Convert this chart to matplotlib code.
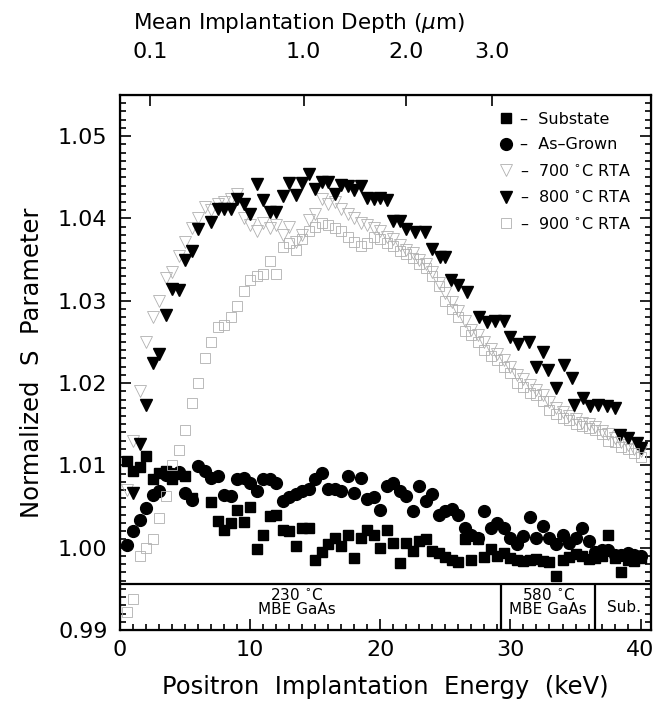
import numpy as np
import matplotlib.pyplot as plt
from matplotlib.ticker import MultipleLocator

# --- data (energy in keV, normalized S) ---
sub_E = [0.5, 1.0, 1.5, 2.0, 2.5, 3.0, 3.5, 4.0, 4.5, 5.0, 5.5, 7.0, 7.5, 8.0, 8.5,
         9.0, 9.5, 10.0, 10.5, 11.0, 11.5, 12.0, 12.5, 13.0, 13.5, 14.0, 14.5, 15.0,
         15.5, 16.0, 16.5, 17.0, 17.5, 18.0, 18.5, 19.0, 19.5, 20.0, 20.5, 21.0, 21.5,
         22.0, 22.5, 23.0, 23.5, 24.0, 24.5, 25.0, 25.5, 26.0, 26.5, 27.0, 27.5, 28.0,
         28.5, 29.0, 29.5, 30.0, 30.5, 31.0, 31.5, 32.0, 32.5, 33.0, 33.5, 34.0, 34.5,
         35.0, 35.5, 36.0, 36.5, 37.0, 37.5, 38.0, 38.5, 39.0, 39.5, 40.0]
sub_S = [1.0105, 1.0093, 1.0098, 1.0111, 1.0083, 1.0091, 1.0093, 1.0084, 1.0090, 1.0087,
         1.0060, 1.0055, 1.0032, 1.0022, 1.0030, 1.0046, 1.0031, 1.0050, 0.9998, 1.0015,
         1.0039, 1.0040, 1.0022, 1.0020, 1.0002, 1.0024, 1.0024, 0.9985, 0.9995, 1.0005,
         1.0012, 1.0002, 1.0016, 0.9988, 1.0012, 1.0022, 1.0016, 1.0000, 1.0022, 1.0006,
         0.9982, 1.0006, 0.9996, 1.0008, 1.0010, 0.9996, 0.9993, 0.9989, 0.9985, 0.9983,
         1.0010, 0.9985, 1.0010, 0.9989, 0.9998, 0.9990, 0.9993, 0.9988, 0.9985, 0.9984,
         0.9985, 0.9986, 0.9984, 0.9983, 0.9966, 0.9985, 0.9989, 0.9992, 0.9990, 0.9986,
         0.9988, 0.9990, 1.0016, 0.9988, 0.9970, 0.9985, 0.9984, 0.9987]

grown_E = [0.5, 1.0, 1.5, 2.0, 2.5, 3.0, 3.5, 4.0, 4.5, 5.0, 5.5, 6.0, 6.5, 7.0, 7.5,
           8.0, 8.5, 9.0, 9.5, 10.0, 10.5, 11.0, 11.5, 12.0, 12.5, 13.0, 13.5, 14.0,
           14.5, 15.0, 15.5, 16.0, 16.5, 17.0, 17.5, 18.0, 18.5, 19.0, 19.5, 20.0, 20.5,
           21.0, 21.5, 22.0, 22.5, 23.0, 23.5, 24.0, 24.5, 25.0, 25.5, 26.0, 26.5, 27.0,
           27.5, 28.0, 28.5, 29.0, 29.5, 30.0, 30.5, 31.0, 31.5, 32.0, 32.5, 33.0, 33.5,
           34.0, 34.5, 35.0, 35.5, 36.0, 36.5, 37.0, 37.5, 38.0, 38.5, 39.0, 39.5, 40.0]
grown_S = [1.0003, 1.0020, 1.0034, 1.0048, 1.0064, 1.0069, 1.0088, 1.0090, 1.0092, 1.0066,
           1.0058, 1.0099, 1.0093, 1.0085, 1.0087, 1.0064, 1.0063, 1.0083, 1.0085, 1.0079,
           1.0069, 1.0083, 1.0083, 1.0079, 1.0057, 1.0061, 1.0065, 1.0069, 1.0071, 1.0083,
           1.0091, 1.0071, 1.0071, 1.0069, 1.0087, 1.0067, 1.0085, 1.0059, 1.0061, 1.0046,
           1.0075, 1.0079, 1.0069, 1.0063, 1.0044, 1.0075, 1.0057, 1.0065, 1.0040, 1.0045,
           1.0047, 1.0040, 1.0024, 1.0016, 1.0012, 1.0045, 1.0024, 1.0030, 1.0024, 1.0012,
           1.0004, 1.0014, 1.0037, 1.0012, 1.0026, 1.0012, 1.0004, 1.0016, 1.0006, 1.0012,
           1.0024, 1.0008, 0.9995, 0.9997, 0.9997, 0.9991, 0.9991, 0.9993, 0.9991, 0.9990]

rta700_E = [0.5, 1.0, 1.5, 2.0, 2.5, 3.0, 3.5, 4.0, 4.5, 5.0, 5.5, 6.0, 6.5, 7.0, 7.5,
            8.0, 8.5, 9.0, 9.5, 10.0, 10.5, 11.0, 11.5, 12.0, 12.5, 13.0, 13.5, 14.0,
            14.5, 15.0, 15.5, 16.0, 16.5, 17.0, 17.5, 18.0, 18.5, 19.0, 19.5, 20.0, 20.5,
            21.0, 21.5, 22.0, 22.5, 23.0, 23.5, 24.0, 24.5, 25.0, 25.5, 26.0, 26.5, 27.0,
            27.5, 28.0, 28.5, 29.0, 29.5, 30.0, 30.5, 31.0, 31.5, 32.0, 32.5, 33.0, 33.5,
            34.0, 34.5, 35.0, 35.5, 36.0, 36.5, 37.0, 37.5, 38.0, 38.5, 39.0, 39.5, 40.0]
rta700_S = [1.0070, 1.0130, 1.0190, 1.0250, 1.0280, 1.0300, 1.0328, 1.0335, 1.0355, 1.0372,
            1.0389, 1.0400, 1.0414, 1.0410, 1.0418, 1.0420, 1.0424, 1.0430, 1.0400, 1.0392,
            1.0385, 1.0395, 1.0388, 1.0392, 1.0380, 1.0390, 1.0372, 1.0380, 1.0398, 1.0405,
            1.0424, 1.0418, 1.0420, 1.0412, 1.0405, 1.0400, 1.0395, 1.0392, 1.0388, 1.0385,
            1.0378, 1.0375, 1.0368, 1.0362, 1.0358, 1.0350, 1.0345, 1.0335, 1.0322, 1.0310,
            1.0298, 1.0288, 1.0275, 1.0265, 1.0258, 1.0250, 1.0242, 1.0235, 1.0228, 1.0220,
            1.0210, 1.0205, 1.0198, 1.0192, 1.0185, 1.0177, 1.0170, 1.0165, 1.0160, 1.0156,
            1.0152, 1.0150, 1.0147, 1.0142, 1.0138, 1.0133, 1.0128, 1.0125, 1.0120, 1.0117]

rta800_E = [1.0, 1.5, 2.0, 2.5, 3.0, 3.5, 4.0, 4.5, 5.0, 5.5, 6.0, 7.0, 7.5, 8.0, 8.5,
            9.0, 9.5, 10.0, 10.5, 11.0, 11.5, 12.0, 12.5, 13.0, 13.5, 14.0, 14.5, 15.0,
            15.5, 16.0, 16.5, 17.0, 17.5, 18.0, 18.5, 19.0, 19.5, 20.0, 20.5, 21.0, 21.5,
            22.0, 22.7, 23.4, 24.0, 24.6, 25.0, 25.4, 26.0, 26.7, 27.6, 28.2, 28.8, 29.5,
            30.0, 30.6, 31.4, 32.0, 32.5, 32.9, 33.5, 34.1, 34.7, 34.9, 35.6, 36.1, 36.7,
            37.4, 38.0, 38.4, 39.0, 39.7, 40.0]
rta800_S = [1.0067, 1.0126, 1.0173, 1.0225, 1.0235, 1.0283, 1.0314, 1.0313, 1.0350, 1.0361,
            1.0387, 1.0396, 1.0412, 1.0412, 1.0412, 1.0424, 1.0418, 1.0406, 1.0442, 1.0422,
            1.0408, 1.0408, 1.0427, 1.0443, 1.0429, 1.0443, 1.0454, 1.0436, 1.0444, 1.0444,
            1.0430, 1.0441, 1.0439, 1.0434, 1.0439, 1.0425, 1.0424, 1.0425, 1.0422, 1.0397,
            1.0397, 1.0387, 1.0383, 1.0383, 1.0363, 1.0353, 1.0353, 1.0325, 1.0319, 1.0311,
            1.0280, 1.0274, 1.0276, 1.0276, 1.0256, 1.0248, 1.0250, 1.0220, 1.0238, 1.0216,
            1.0194, 1.0222, 1.0206, 1.0173, 1.0182, 1.0172, 1.0173, 1.0172, 1.0170, 1.0137,
            1.0133, 1.0127, 1.0121]

rta900_E = [0.5, 1.0, 1.5, 2.0, 2.5, 3.0, 3.5, 4.0, 4.5, 5.0, 5.5, 6.0, 6.5, 7.0, 7.5,
            8.0, 8.5, 9.0, 9.5, 10.0, 10.5, 11.0, 11.5, 12.0, 12.5, 13.0, 13.5, 14.0,
            14.5, 15.0, 15.5, 16.0, 16.5, 17.0, 17.5, 18.0, 18.5, 19.0, 19.5, 20.0, 20.5,
            21.0, 21.5, 22.0, 22.5, 23.0, 23.5, 24.0, 24.5, 25.0, 25.5, 26.0, 26.5, 27.0,
            27.5, 28.0, 28.5, 29.0, 29.5, 30.0, 30.5, 31.0, 31.5, 32.0, 32.5, 33.0, 33.5,
            34.0, 34.5, 35.0, 35.5, 36.0, 36.5, 37.0, 37.5, 38.0, 38.5, 39.0, 39.5, 40.0]
rta900_S = [0.9922, 0.9938, 0.9990, 1.0000, 1.0010, 1.0036, 1.0063, 1.0101, 1.0119, 1.0143,
            1.0176, 1.0200, 1.0230, 1.0250, 1.0268, 1.0270, 1.0280, 1.0294, 1.0312, 1.0325,
            1.0330, 1.0333, 1.0348, 1.0332, 1.0365, 1.0370, 1.0362, 1.0375, 1.0385, 1.0390,
            1.0395, 1.0392, 1.0388, 1.0385, 1.0378, 1.0372, 1.0367, 1.0370, 1.0377, 1.0375,
            1.0370, 1.0367, 1.0360, 1.0357, 1.0352, 1.0345, 1.0340, 1.0330, 1.0318, 1.0300,
            1.0290, 1.0280, 1.0263, 1.0258, 1.0250, 1.0240, 1.0233, 1.0228, 1.0220, 1.0212,
            1.0200, 1.0195, 1.0188, 1.0185, 1.0178, 1.0167, 1.0162, 1.0158, 1.0155, 1.0150,
            1.0148, 1.0146, 1.0143, 1.0138, 1.0130, 1.0128, 1.0122, 1.0120, 1.0115, 1.0110]

# top axis: mean implantation depth (um) and the energies where the ticks sit
depth_labels = ['0.1', '1.0', '2.0', '3.0']
depth_E = [2.3, 14.1, 22.0, 28.6]

# layer boundaries in the bottom band
band_top = 0.9956
layer_edges = [29.3, 36.5]

fig = plt.figure(figsize=(6.59, 7.07), dpi=100)
ax = fig.add_axes([120/659, 1-630/707, 531/659, 535/707])

gray = '#b0b0b0'
h_sub, = ax.plot(sub_E, sub_S, 's', color='k', ms=7.5, ls='none')
h_grown, = ax.plot(grown_E, grown_S, 'o', color='k', ms=8.5, ls='none')
h_700, = ax.plot(rta700_E, rta700_S, 'v', mfc='none', mec=gray, mew=0.6, ms=8, ls='none')
h_800, = ax.plot(rta800_E, rta800_S, 'v', color='k', ms=9, ls='none')
h_900, = ax.plot(rta900_E, rta900_S, 's', mfc='none', mec=gray, mew=0.6, ms=7.5, ls='none')

ax.set_xlim(0, 40.8)
ax.set_ylim(0.99, 1.055)

ax.xaxis.set_major_locator(MultipleLocator(10))
ax.xaxis.set_minor_locator(MultipleLocator(1))
ax.yaxis.set_major_locator(MultipleLocator(0.01))
ax.yaxis.set_minor_locator(MultipleLocator(0.001))
ax.yaxis.set_major_formatter(plt.FormatStrFormatter('%.2f'))
ax.tick_params(which='both', direction='in', left=True, right=True, top=False,
               labelsize=16, width=1.2)
ax.tick_params(which='major', length=8)
ax.tick_params(which='minor', length=4)
ax.tick_params(axis='x', which='major', pad=7)
ax.tick_params(axis='y', which='major', pad=9)
for sp in ax.spines.values():
    sp.set_linewidth(1.6)

ax.set_xlabel('Positron  Implantation  Energy  (keV)', fontsize=17.5, labelpad=11)
ax.set_ylabel('Normalized  S  Parameter', fontsize=17.5, labelpad=10)

ax2 = ax.twiny()
ax2.set_xlim(ax.get_xlim())
ax2.set_xticks(depth_E)
ax2.set_xticklabels(depth_labels)
ax2.tick_params(direction='in', length=8, width=1.2, labelsize=16, pad=24)
ax2.set_xlabel('Mean Implantation Depth ($\\mu$m)', fontsize=15.5, labelpad=9,
               x=0.337)

# bottom band with the layer structure
ax.axhline(band_top, color='k', lw=1.6)
ax.vlines(layer_edges, 0.99, band_top, color='k', lw=1.6)
ax.text(13.6, 0.99345, '230 $^{\\circ}$C\nMBE GaAs', ha='center', va='center',
        fontsize=11, linespacing=0.9)
ax.text(32.9, 0.99345, '580 $^{\\circ}$C\nMBE GaAs', ha='center', va='center',
        fontsize=11, linespacing=0.9)
ax.text(38.7, 0.99275, 'Sub.', ha='center', va='center', fontsize=11)

labels = ['–  Substate', '–  As–Grown', '–  700 $^{\\circ}$C RTA',
          '–  800 $^{\\circ}$C RTA', '–  900 $^{\\circ}$C RTA']
ax.legend([h_sub, h_grown, h_700, h_800, h_900], labels, loc='upper left',
          bbox_to_anchor=(0.70, 0.98), frameon=False, fontsize=11.5,
          handlelength=1.0, handletextpad=0.4, labelspacing=0.65, borderaxespad=0)

fig.savefig('out.png', dpi=100)
